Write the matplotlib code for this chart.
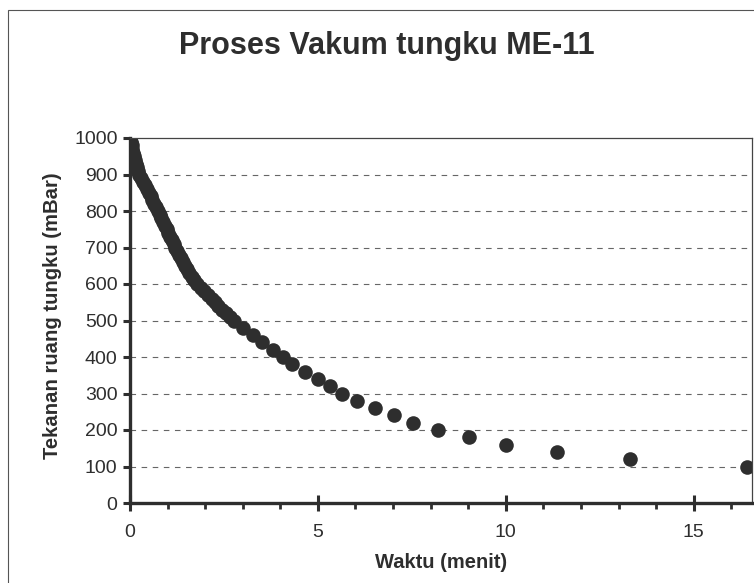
import matplotlib.pyplot as plt
from matplotlib.patches import Rectangle
from matplotlib.ticker import MultipleLocator

# pressure readings (mBar) and elapsed time (minutes)
tekanan = [1000, 990, 980, 970, 960, 950, 940, 930, 920, 910,
           900, 890, 880, 870, 860, 850, 840, 830, 820, 810,
           800, 790, 780, 770, 760, 750, 740, 730, 720, 710,
           700, 690, 680, 670, 660, 650, 640, 630, 620, 610,
           600, 590, 580, 570, 560, 550, 540, 530, 520, 510,
           500, 480, 460, 440, 420,
           400, 380, 360, 340, 320, 300, 280, 260, 240, 220,
           200, 180, 160, 140, 120, 100]
waktu = [0.00, 0.02, 0.04, 0.06, 0.08, 0.10, 0.13, 0.16, 0.19, 0.22,
         0.25, 0.30, 0.35, 0.40, 0.45, 0.50, 0.55, 0.59, 0.64, 0.69,
         0.74, 0.79, 0.83, 0.88, 0.93, 0.98, 1.02, 1.07, 1.12, 1.16,
         1.21, 1.26, 1.31, 1.36, 1.41, 1.46, 1.52, 1.58, 1.64, 1.71,
         1.78, 1.88, 1.98, 2.07, 2.17, 2.25, 2.33, 2.44, 2.55, 2.66,
         2.78, 3.00, 3.26, 3.52, 3.80,
         4.06, 4.32, 4.66, 5.01, 5.31, 5.63, 6.03, 6.52, 7.02, 7.53,
         8.19, 9.01, 10.01, 11.36, 13.30, 16.43]

title = 'Proses Vakum tungku ME-11'
xlabel = 'Waktu (menit)'
ylabel = 'Tekanan ruang tungku (mBar)'

plt.rcParams['font.family'] = ['Liberation Sans', 'DejaVu Sans']
ink = '#2e2e2e'

fig = plt.figure(figsize=(7.54, 5.83), dpi=100)
fig.patch.set_facecolor('white')

# chart-area border (scan is cropped on the right and bottom)
fig.patches.append(Rectangle((8 / 754, -0.05), 1.2, 1 - 10 / 583 + 0.05,
                             transform=fig.transFigure, fill=False,
                             edgecolor='#555555', linewidth=0.8))

ax = fig.add_axes([130 / 754, 1 - 503 / 583, 622 / 754, 365 / 583])

ax.plot(waktu, tekanan, linestyle='none', marker='o', markersize=10.5,
        color=ink, markeredgewidth=0, clip_on=True)

ax.set_xlim(0, 16.55)
ax.set_ylim(0, 1000)
ax.xaxis.set_major_locator(MultipleLocator(5))
ax.xaxis.set_minor_locator(MultipleLocator(1))
ax.yaxis.set_major_locator(MultipleLocator(100))

# dashed gridlines, solid top border
for v in range(100, 1000, 100):
    ax.axhline(v, color='#666666', linestyle=(0, (5, 5)), linewidth=0.8, zorder=0)

for side in ['left', 'bottom']:
    ax.spines[side].set_linewidth(2.4)
    ax.spines[side].set_color(ink)
for side in ['top', 'right']:
    ax.spines[side].set_linewidth(0.9)
    ax.spines[side].set_color('#444444')

ax.tick_params(axis='y', which='major', direction='out', length=5, width=2.2,
               color=ink, labelsize=14, labelcolor=ink, pad=4)
ax.tick_params(axis='x', which='major', direction='inout', length=12, width=2.2,
               color=ink, labelsize=14, labelcolor=ink, pad=9)
ax.tick_params(axis='x', which='minor', direction='out', length=4, width=2.0,
               color=ink)

ax.set_xlabel(xlabel, fontsize=14.5, fontweight='bold', color=ink, labelpad=9)
ax.set_ylabel(ylabel, fontsize=14.6, fontweight='bold', color=ink)
ax.yaxis.set_label_coords(-0.109, 0.512)

fig.text(387 / 754, 1 - 46 / 583, title, ha='center', va='center',
         fontsize=22, fontweight='bold', color=ink)

fig.savefig('out.png', dpi=100)
